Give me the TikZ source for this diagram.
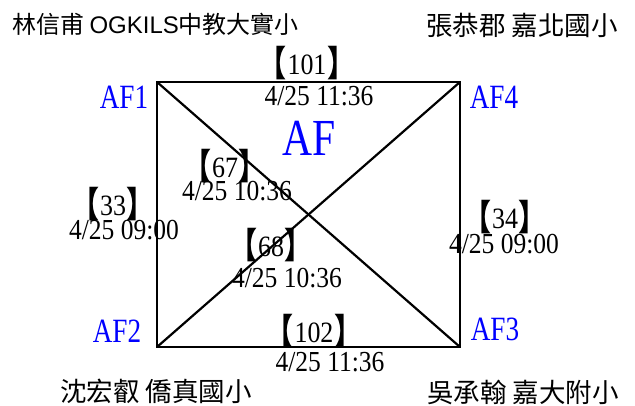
\documentclass[tikz,border=0pt]{standalone}
\usepackage{fontspec}
\setmainfont{Liberation Serif}
\newfontfamily\cjk{Noto Sans CJK TC}
\newfontfamily\nums[FakeStretch=0.88]{Liberation Serif}
\newfontfamily\narrow[FakeStretch=0.8]{Liberation Serif}
\newfontfamily\arial{Liberation Sans}
\newcommand{\brk}[1]{\raisebox{-0.08em}{\scalebox{0.95}[1.2]{\cjk\bfseries 【}}\kern0.02em{\nums #1}\kern0.02em\raisebox{-0.08em}{\scalebox{0.95}[1.2]{\cjk\bfseries 】}}}
\begin{document}
\begin{tikzpicture}[x=1pt,y=-1pt,
  edge/.style={line width=2.2pt,line cap=round},
  corner/.style={inner sep=0pt,text=blue,font=\narrow\fontsize{34}{34}\selectfont},
  num/.style={inner sep=0pt,font=\fontsize{29.5}{29.5}\selectfont},
  stamp/.style={inner sep=0pt,font=\nums\fontsize{29}{29}\selectfont},
  who/.style={inner sep=0pt,font=\cjk\fontsize{26.5}{26.5}\selectfont}]
\useasboundingbox (0,0) rectangle (635,405);
\coordinate (c1) at (157,82);
\coordinate (c4) at (460,82);
\coordinate (c2) at (157,347);
\coordinate (c3) at (460,347);
\draw[edge] (c1) -- (c4) -- (c3) -- (c2) -- cycle;
\draw[edge] (c1) -- (c3);
\draw[edge] (c4) -- (c2);
% corner labels
\node[corner] (af1) at (124,97) {AF1};
\node[corner] (af4) at (494,97) {AF4};
\node[corner] (af2) at (117,331) {AF2};
\node[corner] (af3) at (495,329) {AF3};
\node[inner sep=0pt,text=blue,font=\narrow\fontsize{52}{52}\selectfont] (af) at (309,138) {AF};
% edge labels
\node[num] (n101) at (307,63) {\brk{101}};
\node[stamp] (t101) at (319,96) {4/25 11:36};
\node[num] (n67) at (225,166) {\brk{67}};
\node[stamp] (t67) at (237,191) {4/25 10:36};
\node[num] (n33) at (113,204) {\brk{33}};
\node[stamp] (t33) at (124,230) {4/25 09:00};
\node[num] (n68) at (271,245) {\brk{68}};
\node[stamp] (t68) at (287,278) {4/25 10:36};
\node[num] (n34) at (505,217) {\brk{34}};
\node[stamp] (t34) at (504,244) {4/25 09:00};
\node[num] (n102) at (314,331) {\brk{102}};
\node[stamp] (t102) at (330,362) {4/25 11:36};
% names
\node[inner sep=0pt,anchor=west,font=\cjk\fontsize{24}{24}\selectfont] (p1) at (12,24) {林信甫 {\arial OGKILS}中教大實小};
\node[who,anchor=east] (p4) at (618,25) {張恭郡 嘉北國小};
\node[who,anchor=west] (p2) at (60,391) {沈宏叡 僑真國小};
\node[who,anchor=east] (p3) at (619,392) {吳承翰 嘉大附小};
\end{tikzpicture}
\end{document}
